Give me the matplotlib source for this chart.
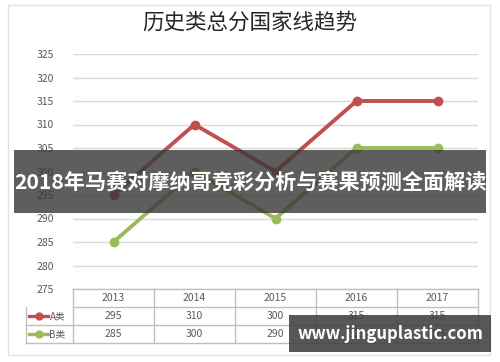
import matplotlib.pyplot as plt
from matplotlib.patches import Rectangle

plt.rcParams['font.family'] = ['Noto Sans CJK SC', 'DejaVu Sans']

years = ['2013', '2014', '2015', '2016', '2017']
a_vals = [295, 310, 300, 315, 315]
b_vals = [285, 300, 290, 305, 305]
series_names = ['A类', 'B类']
yticks = [275, 280, 285, 290, 295, 300, 305, 310, 315, 320, 325]
title = '历史类总分国家线趋势'
banner = '2018年马赛对摩纳哥竞彩分析与赛果预测全面解读'
site = 'www.jinguplastic.com'

col_a = '#C0504D'
col_b = '#9BBB59'
grid_c = '#D9D9D9'
txt_c = '#595959'

W, H = 500, 362
fig = plt.figure(figsize=(5, 3.62), dpi=100)
fig.patch.set_facecolor('white')

def fx(px):
    return px / W

def fy(py):
    return 1 - py / H

# outer chart frame
fig.patches.append(Rectangle((fx(8), fy(355)), fx(490) - fx(8), fy(5) - fy(355),
                             transform=fig.transFigure, fill=False, ec='#E3E3E3', lw=1))

fig.text(0.5, fy(23), title, ha='center', va='center', fontsize=15.5, color='#262626')

# main plot
ax = fig.add_axes([fx(73), fy(289), fx(478) - fx(73), fy(54) - fy(289)])
x = list(range(len(years)))
ax.plot(x, a_vals, color=col_a, lw=2.8, marker='o', ms=6, zorder=3)
ax.plot(x, b_vals, color=col_b, lw=2.8, marker='o', ms=6, zorder=3)
ax.set_xlim(-0.5, len(years) - 0.5)
ax.set_ylim(275, 325)
ax.set_yticks(yticks)
ax.set_xticks([])
for s in ax.spines.values():
    s.set_visible(False)
ax.grid(axis='y', color=grid_c, lw=1)
ax.tick_params(axis='y', length=0, pad=14, labelsize=7.5, labelcolor=txt_c)
ax.set_facecolor('none')

# data table under the plot
tx = fig.add_axes([fx(73), fy(343), fx(478) - fx(73), fy(289) - fy(343)])
tx.set_xlim(-0.5, len(years) - 0.5)
tx.set_ylim(0, 3)
tx.axis('off')
left = -0.5 - 47 / 81
border = '#BFBFBF'
for yv in [3, 2]:
    tx.plot([-0.5, 4.5], [yv, yv], color=border, lw=1, clip_on=False)
for yv in [1, 0]:
    tx.plot([left, 4.5], [yv, yv], color=border, lw=1, clip_on=False)
for xv in [-0.5 + i for i in range(len(years) + 1)]:
    tx.plot([xv, xv], [0, 3], color=border, lw=1, clip_on=False)
tx.plot([left, left], [0, 2], color=border, lw=1, clip_on=False)
for i, yr in enumerate(years):
    tx.text(i, 2.5, yr, ha='center', va='center', fontsize=7.5, color=txt_c)
    tx.text(i, 1.5, str(a_vals[i]), ha='center', va='center', fontsize=7.5, color=txt_c)
    tx.text(i, 0.5, str(b_vals[i]), ha='center', va='center', fontsize=7.5, color=txt_c)
for yv, name, c in [(1.5, series_names[0], col_a), (0.5, series_names[1], col_b)]:
    tx.plot([left + 0.04, left + 0.27], [yv, yv], color=c, lw=2.4, clip_on=False)
    tx.plot([left + 0.155], [yv], marker='o', color=c, ms=5, clip_on=False)
    tx.text(left + 0.29, yv, name, ha='left', va='center', fontsize=7, color=txt_c)

# overlay banners
fig.patches.append(Rectangle((fx(14), fy(213)), fx(486) - fx(14), fy(150) - fy(213),
                             transform=fig.transFigure, fc='#3A3A3A', alpha=0.82, ec='none', zorder=10))
fig.text(0.5, fy(182), banner, ha='center', va='center', fontsize=15.2,
         fontweight='bold', color='white', zorder=11)
fig.patches.append(Rectangle((fx(289), fy(352)), fx(491) - fx(289), fy(315) - fy(352),
                             transform=fig.transFigure, fc='#3A3A3A', alpha=0.85, ec='none', zorder=10))
fig.text(fx(390), fy(334), site, ha='center', va='center', fontsize=12,
         fontweight='bold', color='white', zorder=11)

fig.savefig('out.png', dpi=100)
